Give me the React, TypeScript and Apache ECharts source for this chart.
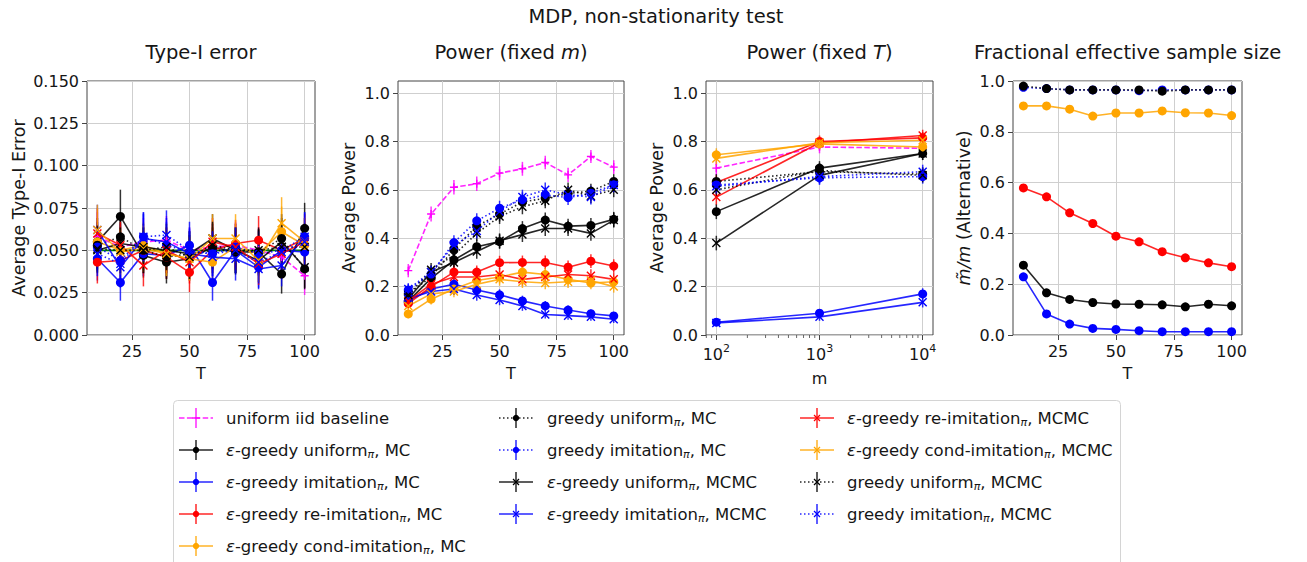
import React, { useEffect, useRef } from 'react';
import * as echarts from 'echarts';

const FONT = "'DejaVu Sans', 'Noto Sans', sans-serif";
const TEXT = '#161616';

// ---------------- data ----------------
const T_VALUES = [10, 20, 30, 40, 50, 60, 70, 80, 90, 100];
const M_VALUES = [100, 1000, 10000];
const M_MINOR_TICKS = [80, 90, 200, 300, 400, 500, 600, 700, 800, 900, 2000, 3000, 4000, 5000, 6000, 7000, 8000, 9000];
const T_TICKS = [25, 50, 75, 100];
const M_TICK_EXPONENTS = [2, 3, 4];
const POWER_TICKS = [0, 0.2, 0.4, 0.6, 0.8, 1.0];
const N_REPS = 1000;
const ALPHA_LEVEL = 0.05;

// Type-I error (T = 10..100)
const type1UniformIid = [0.058, 0.052, 0.055, 0.056, 0.050, 0.052, 0.053, 0.050, 0.046, 0.035];
const type1EgUniformMC = [0.055, 0.070, 0.047, 0.043, 0.045, 0.052, 0.049, 0.049, 0.036, 0.063];
const type1EgImitationMC = [0.045, 0.031, 0.048, 0.047, 0.053, 0.031, 0.050, 0.040, 0.050, 0.049];
const type1EgReImitationMC = [0.043, 0.044, 0.050, 0.046, 0.037, 0.050, 0.054, 0.056, 0.050, 0.057];
const type1EgCondImitationMC = [0.055, 0.050, 0.053, 0.048, 0.045, 0.043, 0.052, 0.048, 0.061, 0.053];
const type1GUniformMC = [0.053, 0.058, 0.050, 0.046, 0.048, 0.050, 0.050, 0.049, 0.057, 0.039];
const type1GImitationMC = [0.052, 0.044, 0.058, 0.053, 0.049, 0.048, 0.052, 0.048, 0.050, 0.058];
const type1EgUniformMCMC = [0.050, 0.054, 0.052, 0.050, 0.048, 0.057, 0.050, 0.044, 0.055, 0.040];
const type1EgImitationMCMC = [0.062, 0.040, 0.057, 0.055, 0.048, 0.046, 0.045, 0.039, 0.041, 0.058];
const type1EgReImitationMCMC = [0.060, 0.053, 0.041, 0.050, 0.043, 0.055, 0.052, 0.042, 0.048, 0.055];
const type1EgCondImitationMCMC = [0.062, 0.049, 0.051, 0.048, 0.045, 0.057, 0.057, 0.044, 0.066, 0.055];
const type1GUniformMCMC = [0.051, 0.050, 0.050, 0.052, 0.046, 0.053, 0.050, 0.050, 0.052, 0.052];
const type1GImitationMCMC = [0.048, 0.042, 0.058, 0.059, 0.050, 0.048, 0.050, 0.043, 0.049, 0.055];

// Power, fixed m (T = 10..100)
const powerTUniformIid = [0.266, 0.500, 0.611, 0.625, 0.669, 0.687, 0.713, 0.662, 0.738, 0.694];
const powerTEgUniformMC = [0.140, 0.234, 0.310, 0.365, 0.386, 0.440, 0.475, 0.450, 0.453, 0.478];
const powerTEgImitationMC = [0.140, 0.190, 0.210, 0.186, 0.166, 0.141, 0.120, 0.103, 0.088, 0.079];
const powerTEgReImitationMC = [0.130, 0.200, 0.260, 0.260, 0.299, 0.300, 0.300, 0.280, 0.305, 0.285];
const powerTEgCondImitationMC = [0.087, 0.148, 0.190, 0.225, 0.240, 0.260, 0.250, 0.230, 0.215, 0.220];
const powerTGUniformMC = [0.170, 0.240, 0.355, 0.450, 0.500, 0.550, 0.565, 0.585, 0.595, 0.635];
const powerTGImitationMC = [0.186, 0.252, 0.382, 0.472, 0.524, 0.559, 0.579, 0.568, 0.586, 0.621];
const powerTEgUniformMCMC = [0.150, 0.260, 0.300, 0.345, 0.390, 0.415, 0.440, 0.440, 0.420, 0.475];
const powerTEgImitationMCMC = [0.150, 0.180, 0.190, 0.165, 0.145, 0.120, 0.085, 0.080, 0.075, 0.065];
const powerTEgReImitationMCMC = [0.140, 0.210, 0.240, 0.240, 0.250, 0.230, 0.240, 0.250, 0.245, 0.230];
const powerTEgCondImitationMCMC = [0.120, 0.170, 0.180, 0.210, 0.230, 0.220, 0.215, 0.220, 0.225, 0.200];
const powerTGUniformMCMC = [0.165, 0.270, 0.330, 0.420, 0.490, 0.530, 0.555, 0.600, 0.575, 0.600];
const powerTGImitationMCMC = [0.190, 0.260, 0.370, 0.430, 0.510, 0.570, 0.600, 0.580, 0.570, 0.620];

// Power, fixed T (m = 1e2, 1e3, 1e4)
const powerMUniformIid = [0.690, 0.777, 0.772];
const powerMEgUniformMC = [0.510, 0.690, 0.750];
const powerMEgImitationMC = [0.053, 0.090, 0.170];
const powerMEgReImitationMC = [0.630, 0.800, 0.815];
const powerMEgCondImitationMC = [0.745, 0.790, 0.777];
const powerMGUniformMC = [0.635, 0.675, 0.665];
const powerMGImitationMC = [0.620, 0.650, 0.655];
const powerMEgUniformMCMC = [0.380, 0.660, 0.750];
const powerMEgImitationMCMC = [0.050, 0.075, 0.135];
const powerMEgReImitationMCMC = [0.570, 0.795, 0.825];
const powerMEgCondImitationMCMC = [0.730, 0.795, 0.805];
const powerMGUniformMCMC = [0.600, 0.680, 0.660];
const powerMGImitationMCMC = [0.615, 0.655, 0.675];

// Fractional effective sample size (T = 10..100)
const essEgUniformMC = [0.275, 0.166, 0.140, 0.128, 0.122, 0.121, 0.119, 0.111, 0.121, 0.115];
const essEgImitationMC = [0.229, 0.083, 0.043, 0.026, 0.022, 0.017, 0.013, 0.013, 0.013, 0.013];
const essEgReImitationMC = [0.579, 0.544, 0.481, 0.439, 0.389, 0.367, 0.328, 0.304, 0.284, 0.269];
const essEgCondImitationMC = [0.902, 0.902, 0.889, 0.862, 0.874, 0.874, 0.882, 0.875, 0.874, 0.864];
const essGUniformMC = [0.980, 0.970, 0.965, 0.965, 0.965, 0.965, 0.960, 0.965, 0.965, 0.965];
const essGImitationMC = [0.975, 0.970, 0.965, 0.965, 0.965, 0.962, 0.965, 0.965, 0.965, 0.965];

const LEGEND_LABELS = [
  'uniform iid baseline',
  '{e|ε}-greedy uniform{s|π}, MC',
  '{e|ε}-greedy imitation{s|π}, MC',
  '{e|ε}-greedy re-imitation{s|π}, MC',
  '{e|ε}-greedy cond-imitation{s|π}, MC',
  'greedy uniform{s|π}, MC',
  'greedy imitation{s|π}, MC',
  '{e|ε}-greedy uniform{s|π}, MCMC',
  '{e|ε}-greedy imitation{s|π}, MCMC',
  '{e|ε}-greedy re-imitation{s|π}, MCMC',
  '{e|ε}-greedy cond-imitation{s|π}, MCMC',
  'greedy uniform{s|π}, MCMC',
  'greedy imitation{s|π}, MCMC',
];

// ---------------- styles ----------------
const DASHED = [5.5, 2.4];
const DOTTED = [1.5, 2.5];
const SOLID: any = 'solid';

type St = { color: string; dash: any; marker: 'circle' | 'x' | 'plus' };
const SERIES: { st: St; type1: number[]; powerT: number[]; powerM: number[] }[] = [
  { st: { color: '#ff00ff', dash: DASHED, marker: 'plus' }, type1: type1UniformIid, powerT: powerTUniformIid, powerM: powerMUniformIid },
  { st: { color: '#000000', dash: SOLID, marker: 'circle' }, type1: type1EgUniformMC, powerT: powerTEgUniformMC, powerM: powerMEgUniformMC },
  { st: { color: '#0000ff', dash: SOLID, marker: 'circle' }, type1: type1EgImitationMC, powerT: powerTEgImitationMC, powerM: powerMEgImitationMC },
  { st: { color: '#ff0000', dash: SOLID, marker: 'circle' }, type1: type1EgReImitationMC, powerT: powerTEgReImitationMC, powerM: powerMEgReImitationMC },
  { st: { color: '#ffa500', dash: SOLID, marker: 'circle' }, type1: type1EgCondImitationMC, powerT: powerTEgCondImitationMC, powerM: powerMEgCondImitationMC },
  { st: { color: '#000000', dash: DOTTED, marker: 'circle' }, type1: type1GUniformMC, powerT: powerTGUniformMC, powerM: powerMGUniformMC },
  { st: { color: '#0000ff', dash: DOTTED, marker: 'circle' }, type1: type1GImitationMC, powerT: powerTGImitationMC, powerM: powerMGImitationMC },
  { st: { color: '#000000', dash: SOLID, marker: 'x' }, type1: type1EgUniformMCMC, powerT: powerTEgUniformMCMC, powerM: powerMEgUniformMCMC },
  { st: { color: '#0000ff', dash: SOLID, marker: 'x' }, type1: type1EgImitationMCMC, powerT: powerTEgImitationMCMC, powerM: powerMEgImitationMCMC },
  { st: { color: '#ff0000', dash: SOLID, marker: 'x' }, type1: type1EgReImitationMCMC, powerT: powerTEgReImitationMCMC, powerM: powerMEgReImitationMCMC },
  { st: { color: '#ffa500', dash: SOLID, marker: 'x' }, type1: type1EgCondImitationMCMC, powerT: powerTEgCondImitationMCMC, powerM: powerMEgCondImitationMCMC },
  { st: { color: '#000000', dash: DOTTED, marker: 'x' }, type1: type1GUniformMCMC, powerT: powerTGUniformMCMC, powerM: powerMGUniformMCMC },
  { st: { color: '#0000ff', dash: DOTTED, marker: 'x' }, type1: type1GImitationMCMC, powerT: powerTGImitationMCMC, powerM: powerMGImitationMCMC },
];

const ESS_SERIES: { st: St; data: number[] }[] = [
  { st: SERIES[1].st, data: essEgUniformMC },
  { st: SERIES[2].st, data: essEgImitationMC },
  { st: SERIES[3].st, data: essEgReImitationMC },
  { st: SERIES[4].st, data: essEgCondImitationMC },
  { st: SERIES[6].st, data: essGImitationMC },
  { st: SERIES[5].st, data: essGUniformMC },
];

const MARKERS: Record<string, string> = {
  circle: 'circle',
  x: 'path://M0,0L10,10M10,0L0,10',
  plus: 'path://M5,0L5,10M0,5L10,5',
};

const GRIDS = [
  { left: 87, top: 81, width: 228, height: 254 },
  { left: 398, top: 81, width: 226, height: 254 },
  { left: 706, top: 81, width: 227, height: 254 },
  { left: 1013, top: 81, width: 229, height: 254 },
];

const SUP: Record<number, string> = { 2: '2', 3: '3', 4: '4' };

// 95% binomial confidence half-width for an estimated rejection rate
const ci95 = (p: number) => 1.96 * Math.sqrt((p * (1 - p)) / N_REPS);

function lineSeries(idx: number, xs: number[], ys: number[], st: St, extra: any = {}) {
  return {
    type: 'line',
    xAxisIndex: idx,
    yAxisIndex: idx,
    data: xs.map((x, i) => [x, ys[i]]),
    symbol: MARKERS[st.marker],
    symbolSize: st.marker === 'circle' ? 9 : 8,
    showSymbol: true,
    silent: true,
    clip: false,
    lineStyle: { color: st.color, width: 1.6, type: st.dash, opacity: 0.85 },
    itemStyle: {
      color: st.color,
      borderColor: st.color,
      borderWidth: st.marker === 'circle' ? 0 : 1.4,
    },
    emphasis: { disabled: true },
    ...extra,
  };
}

function errSeries(idx: number, xs: number[], ys: number[], color: string) {
  return {
    type: 'custom',
    xAxisIndex: idx,
    yAxisIndex: idx,
    silent: true,
    encode: { x: 0, y: [1, 2] },
    data: xs.map((x, i) => {
      const h = ci95(ys[i]);
      return [x, ys[i] - h, ys[i] + h];
    }),
    renderItem: (_p: any, api: any) => {
      const a = api.coord([api.value(0), api.value(1)]);
      const b = api.coord([api.value(0), api.value(2)]);
      return {
        type: 'line',
        shape: { x1: a[0], y1: a[1], x2: b[0], y2: b[1] },
        style: { stroke: color, lineWidth: 1.5, opacity: 0.8 },
      };
    },
  };
}

function baseAxis(gridIndex: number) {
  return {
    gridIndex,
    type: 'value',
    axisLine: { show: false },
    axisTick: { show: true, inside: false, length: 5, lineStyle: { color: '#444', width: 1 } },
    splitLine: { show: true, lineStyle: { color: '#cfcfcf', width: 1 } },
    axisLabel: { color: TEXT, fontSize: 16, fontFamily: FONT, margin: 8 },
    nameTextStyle: { color: TEXT, fontSize: 16, fontFamily: FONT },
    nameLocation: 'middle',
  };
}

function tAxis(idx: number) {
  const b: any = baseAxis(idx);
  return {
    ...b,
    min: 5.5,
    max: 104.5,
    name: 'T',
    nameGap: 30,
    axisTick: { ...b.axisTick, customValues: T_TICKS },
    axisLabel: { ...b.axisLabel, customValues: T_TICKS },
  };
}

function buildOption() {
  const logM = M_VALUES.map((m) => Math.log10(m));
  const series: any[] = [];

  // Panel 0: type-I error
  series.push(
    lineSeries(0, [T_VALUES[0], T_VALUES[T_VALUES.length - 1]], [ALPHA_LEVEL, ALPHA_LEVEL],
      { color: '#008000', dash: SOLID, marker: 'circle' }, { symbol: 'none', lineStyle: { color: '#008000', width: 1.6 } })
  );
  SERIES.forEach((s) => {
    series.push(errSeries(0, T_VALUES, s.type1, s.st.color));
    series.push(lineSeries(0, T_VALUES, s.type1, s.st));
  });
  // Panel 1: power fixed m
  SERIES.forEach((s) => {
    series.push(errSeries(1, T_VALUES, s.powerT, s.st.color));
    series.push(lineSeries(1, T_VALUES, s.powerT, s.st));
  });
  // Panel 2: power fixed T
  SERIES.forEach((s) => {
    series.push(errSeries(2, logM, s.powerM, s.st.color));
    series.push(lineSeries(2, logM, s.powerM, s.st));
  });
  // minor log ticks
  series.push({
    type: 'custom',
    xAxisIndex: 2,
    yAxisIndex: 2,
    silent: true,
    encode: { x: 0 },
    data: M_MINOR_TICKS.map((m) => [Math.log10(m)]),
    renderItem: (_p: any, api: any) => {
      const p = api.coord([api.value(0), 0]);
      return {
        type: 'line',
        shape: { x1: p[0], y1: p[1], x2: p[0], y2: p[1] + 3 },
        style: { stroke: '#444', lineWidth: 0.8 },
      };
    },
  });
  // Panel 3: ESS
  ESS_SERIES.forEach((s) => {
    series.push(lineSeries(3, T_VALUES, s.data, s.st));
  });

  const xAxis: any[] = [
    tAxis(0),
    tAxis(1),
    (() => {
      const b: any = baseAxis(2);
      return {
        ...b,
        min: 1.9,
        max: 4.1,
        splitNumber: 2,
        name: 'm',
        nameGap: 35,
        axisTick: { ...b.axisTick, customValues: M_TICK_EXPONENTS },
        axisLabel: {
          ...b.axisLabel,
          customValues: M_TICK_EXPONENTS,
          lineHeight: 22,
          formatter: (v: number) => (Math.abs(v - Math.round(v)) < 1e-6 ? '10{sup|' + SUP[Math.round(v)] + '}' : ''),
          rich: {
            sup: { fontSize: 11, fontFamily: FONT, color: TEXT, verticalAlign: 'top', lineHeight: 11 },
          },
        },
      };
    })(),
    tAxis(3),
  ];

  const powerY = (idx: number) => {
    const b: any = baseAxis(idx);
    return {
      ...b,
      min: 0,
      max: 1.05,
      interval: 0.2,
      name: 'Average Power',
      nameGap: 40,
      nameTextStyle: { ...b.nameTextStyle, fontSize: 17.5 },
      axisTick: { ...b.axisTick, customValues: POWER_TICKS },
      axisLabel: {
        ...b.axisLabel,
        customValues: POWER_TICKS,
        formatter: (v: number) => (v > 1.001 ? '' : v.toFixed(1)),
      },
    };
  };

  const yAxis: any[] = [
    (() => {
      const b: any = baseAxis(0);
      return {
        ...b,
        min: 0,
        max: 0.15,
        interval: 0.025,
        name: 'Average Type-I Error',
        nameGap: 59,
        nameTextStyle: { ...b.nameTextStyle, fontSize: 17.5 },
        axisLabel: { ...b.axisLabel, formatter: (v: number) => v.toFixed(3) },
      };
    })(),
    powerY(1),
    powerY(2),
    (() => {
      const b: any = baseAxis(3);
      return {
        ...b,
        min: 0,
        max: 1,
        interval: 0.2,
        name: '{i|m̃/m} (Alternative)',
        nameGap: 40,
        nameTextStyle: {
          ...b.nameTextStyle,
          fontSize: 17.5,
          rich: { i: { fontStyle: 'italic', fontSize: 17.5, fontFamily: FONT, color: TEXT } },
        },
        axisLabel: { ...b.axisLabel, formatter: (v: number) => v.toFixed(1) },
      };
    })(),
  ];

  // ---------- graphic: titles + legend ----------
  const graphic: any[] = [];
  const titleStyle = (text: string, x: number, y: number) => ({
    type: 'text',
    x,
    y,
    silent: true,
    style: {
      text,
      fill: TEXT,
      fontSize: 19.5,
      fontFamily: FONT,
      align: 'center',
      verticalAlign: 'middle',
      rich: { i: { fontStyle: 'italic', fontSize: 19.5, fontFamily: FONT, fill: TEXT, color: TEXT } },
    },
  });
  graphic.push(titleStyle('MDP, non-stationarity test', 656, 16));
  const titles = ['Type-I error', 'Power (fixed {i|m})', 'Power (fixed {i|T})', 'Fractional effective sample size'];
  GRIDS.forEach((g, i) => graphic.push(titleStyle(titles[i], g.left + g.width / 2, 52)));

  graphic.push({
    type: 'rect',
    silent: true,
    shape: { x: 173.5, y: 400.5, width: 947, height: 200, r: 4 },
    style: { fill: '#ffffff', stroke: '#d4d4d4', lineWidth: 1 },
  });

  const colHandleX = [179, 499, 800];
  const colTextX = [226, 547, 847];
  const columns = [[0, 1, 2, 3, 4], [5, 6, 7, 8], [9, 10, 11, 12]];
  columns.forEach((col, ci) => {
    col.forEach((si, ri) => {
      const st = SERIES[si].st;
      const yc = 418 + ri * 32;
      const x0 = colHandleX[ci];
      const xc = x0 + 17;
      graphic.push({
        type: 'line',
        silent: true,
        shape: { x1: x0, y1: yc, x2: x0 + 34, y2: yc },
        style: { stroke: st.color, lineWidth: 1.6, lineDash: st.dash === SOLID ? null : st.dash, opacity: 0.85 },
      });
      graphic.push({
        type: 'line',
        silent: true,
        shape: { x1: xc, y1: yc - 10, x2: xc, y2: yc + 10 },
        style: { stroke: st.color, lineWidth: 1.5, opacity: 0.85 },
      });
      if (st.marker === 'circle') {
        graphic.push({ type: 'circle', silent: true, shape: { cx: xc, cy: yc, r: 3.2 }, style: { fill: st.color } });
      } else if (st.marker === 'x') {
        graphic.push({ type: 'line', silent: true, shape: { x1: xc - 3, y1: yc - 3, x2: xc + 3, y2: yc + 3 }, style: { stroke: st.color, lineWidth: 1.3 } });
        graphic.push({ type: 'line', silent: true, shape: { x1: xc - 3, y1: yc + 3, x2: xc + 3, y2: yc - 3 }, style: { stroke: st.color, lineWidth: 1.3 } });
      } else {
        graphic.push({ type: 'line', silent: true, shape: { x1: xc - 4, y1: yc, x2: xc + 4, y2: yc }, style: { stroke: st.color, lineWidth: 1.4 } });
      }
      graphic.push({
        type: 'text',
        silent: true,
        x: colTextX[ci],
        y: yc,
        style: {
          text: LEGEND_LABELS[si],
          fill: TEXT,
          fontSize: 16.5,
          fontFamily: FONT,
          align: 'left',
          verticalAlign: 'middle',
          lineHeight: 20,
          rich: {
            e: { fontStyle: 'italic', fontSize: 16.5, fontFamily: FONT, fill: TEXT, color: TEXT, lineHeight: 20 },
            s: { fontStyle: 'italic', fontSize: 11, fontFamily: FONT, fill: TEXT, color: TEXT, verticalAlign: 'bottom', lineHeight: 11 },
          },
        },
      });
    });
  });

  return {
    animation: false,
    backgroundColor: '#ffffff',
    grid: GRIDS.map((g) => ({
      ...g,
      show: true,
      borderColor: '#444',
      borderWidth: 1,
      backgroundColor: 'transparent',
      containLabel: false,
      outerBoundsMode: 'none',
    })),
    xAxis,
    yAxis,
    series,
    graphic,
  };
}

export default function App() {
  const ref = useRef<HTMLDivElement>(null);
  useEffect(() => {
    if (!ref.current) return;
    const chart = echarts.init(ref.current, null, { renderer: 'svg' });
    chart.setOption(buildOption() as any);
    return () => chart.dispose();
  }, []);
  return (
    <div
      ref={ref}
      style={{ position: 'absolute', left: 0, top: 0, width: 1307, height: 562, background: '#fff' }}
    />
  );
}
